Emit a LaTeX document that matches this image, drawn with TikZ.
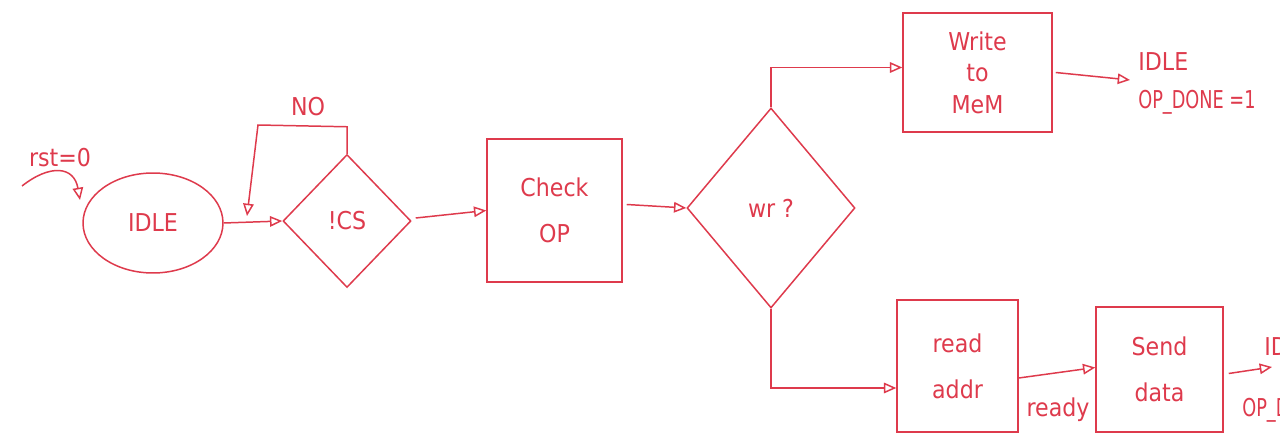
\documentclass[tikz,border=0pt]{standalone}
\usepackage{fontspec}
\setmainfont{DejaVu Sans}
\usetikzlibrary{shapes.geometric,arrows.meta,calc}
\definecolor{pen}{RGB}{222,58,76}
\begin{document}
\begin{tikzpicture}[x=0.02cm,y=-0.02cm,
  every node/.style={text=pen,font=\fontsize{14}{24}\selectfont\addfontfeature{FakeStretch=0.9}},
  shp/.style={draw=pen,line width=0.85pt,inner sep=0pt},
  boxnode/.style={shp,rectangle,align=center},
  dia/.style={shp,diamond},
  arr/.style={draw=pen,line width=0.85pt,-{Triangle[open,length=7pt,width=6pt]}},
  lbl/.style={inner sep=0pt},
  narrow/.style={font=\fontsize{14}{24}\selectfont\addfontfeature{FakeStretch=0.72}}]
\useasboundingbox (0,0) rectangle (1280,442);
\begin{scope}
\clip (0,0) rectangle (1280,442);
% nodes
\node[shp,ellipse,minimum width=2.8cm,minimum height=2cm] (idle) at (153,223) {IDLE};
\node[dia,minimum width=2.56cm,minimum height=2.66cm] (cs) at (347,221) {!CS};
\node[boxnode,minimum width=2.7cm,minimum height=2.86cm] (check) at (554.5,210.5) {Check\\[2pt]OP};
\node[dia,minimum width=3.36cm,minimum height=4cm] (wr) at (771,208) {wr ?};
\node[boxnode,minimum width=2.98cm,minimum height=2.38cm] (write) at (977.5,72.5) {Write\\[-6pt]to\\[-6pt]MeM};
\node[boxnode,minimum width=2.42cm,minimum height=2.64cm] (read) at (957.5,366) {read\\[2pt]addr};
\node[boxnode,minimum width=2.54cm,minimum height=2.5cm] (send) at (1159.5,369.5) {Send\\[2pt]data};
% labels
\node[lbl] (rst) at (60,158) {rst=0};
\node[lbl] (no) at (308,107) {NO};
\node[lbl,anchor=west] (idleA) at (1138,62) {IDLE};
\node[lbl,narrow,anchor=west] (doneA) at (1138,102) {OP\_DONE =1};
\node[lbl] (ready) at (1058,410) {ready};
\node[lbl,anchor=west] (idleB) at (1264,347) {IDLE};
\node[lbl,narrow,anchor=west] (doneB) at (1242,410) {OP\_DONE =1};
% coordinates
\coordinate (rstS) at (22,186);
\coordinate (rstE) at (80,200);
\coordinate (loopE) at (247,216);
\coordinate (wA) at (1130,80);
\coordinate (sA) at (1272,367);
% connectors
\draw[arr] (rstS) .. controls (50,164) and (74,166) .. (rstE);
\draw[arr] (idle.east) -- (cs.west);
\draw[arr] (cs.north) -- ($(cs.north)+(0,-27)$) -- (258,125) -- (loopE);
\draw[arr] (cs.east) ++(4,-3) -- (check.west);
\draw[arr] ($(check.east)+(4,-6)$) -- (wr.west);
\draw[arr] (wr.north) |- ($(write.west)+(0,-5)$);
\draw[arr] ($(write.east)+(3,0)$) -- (wA);
\draw[arr] (wr.south) |- ($(read.west)+(0,22)$);
\draw[arr] ($(read.east)+(0,12)$) -- ($(send.west)+(0,-2)$);
\draw[arr] ($(send.east)+(5,4)$) -- (sA);
\end{scope}
\end{tikzpicture}
\end{document}
